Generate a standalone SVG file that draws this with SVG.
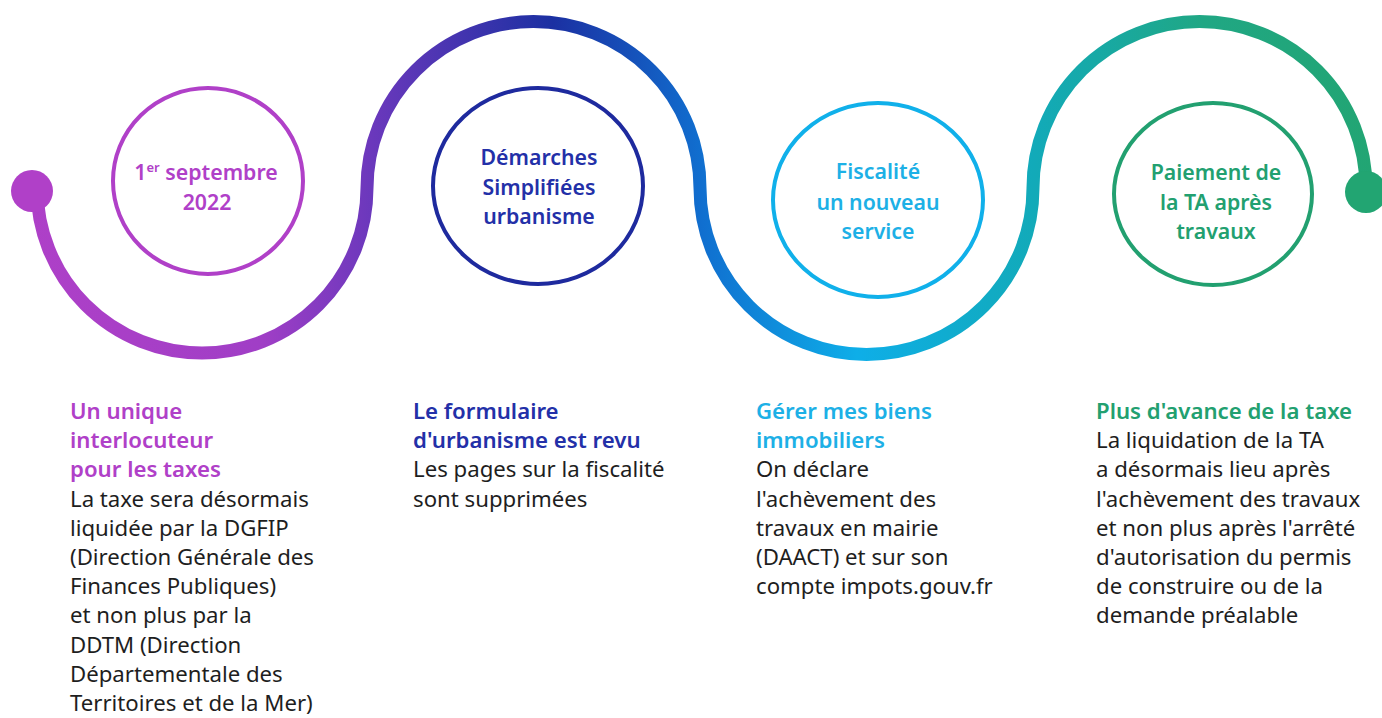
<svg xmlns="http://www.w3.org/2000/svg" width="1382" height="718" viewBox="0 0 1382 718">
<defs>
<linearGradient id="wave" gradientUnits="userSpaceOnUse" x1="0" y1="0" x2="1382" y2="0">
<stop offset="0" stop-color="#b040c8"/>
<stop offset="0.19" stop-color="#a03ec6"/>
<stop offset="0.27" stop-color="#6a38bc"/>
<stop offset="0.4" stop-color="#1b30a2"/>
<stop offset="0.51" stop-color="#1070d0"/>
<stop offset="0.62" stop-color="#0eaee8"/>
<stop offset="0.75" stop-color="#12aab8"/>
<stop offset="0.87" stop-color="#20a784"/>
<stop offset="1" stop-color="#22a572"/>
</linearGradient>
<style>
.ring{fill:none;stroke-width:4}
.t{font-family:"Noto Sans","Liberation Sans",sans-serif;font-size:21.3px}
.d{font-family:"Noto Sans","Liberation Sans",sans-serif;font-size:22.2px}
.h{font-weight:600}
.c{text-anchor:middle}
.body{fill:#1e1e1e}
</style>
</defs>
<rect width="1382" height="718" fill="#ffffff"/>
<g id="connectors">
<path d="M37 188 A165 165 0 0 0 367 188 A166.5 166.5 0 0 1 700 188 A166.5 166.5 0 0 0 1033 188 A166.5 166.5 0 0 1 1366 188" fill="none" stroke="url(#wave)" stroke-width="13"/>
<circle cx="32" cy="191" r="21" fill="#b040c8"/>
<circle cx="1366" cy="192" r="21" fill="#22a572"/>
</g>
<g id="node1">
<ellipse class="ring" cx="208" cy="181" rx="95" ry="93" stroke="#b040c8"/>
<text class="t h c" fill="#b040c8" x="206" y="180">1<tspan font-size="13" dy="-8">er</tspan><tspan dy="8"> septembre</tspan></text>
<text class="t h c" fill="#b040c8" x="207" y="210">2022</text>
</g>
<g id="node2">
<ellipse class="ring" cx="538" cy="186" rx="105" ry="98" stroke="#1e2a9e"/>
<text class="t h c" fill="#2330a8" x="539" y="165">Démarches</text>
<text class="t h c" fill="#2330a8" x="539" y="195">Simplifiées</text>
<text class="t h c" fill="#2330a8" x="539" y="224">urbanisme</text>
</g>
<g id="node3">
<ellipse class="ring" cx="878" cy="200" rx="105" ry="97" stroke="#10b0ea"/>
<text class="t h c" fill="#1db0e6" x="878" y="179">Fiscalité</text>
<text class="t h c" fill="#1db0e6" x="878" y="210">un nouveau</text>
<text class="t h c" fill="#1db0e6" x="878" y="239">service</text>
</g>
<g id="node4">
<ellipse class="ring" cx="1213" cy="194" rx="99" ry="91" stroke="#22a070"/>
<text class="t h c" fill="#22a070" x="1216" y="180">Paiement de</text>
<text class="t h c" fill="#22a070" x="1216" y="210">la TA après</text>
<text class="t h c" fill="#22a070" x="1216" y="239">travaux</text>
</g>
<g id="desc1" class="d">
<text x="70" y="419" class="h" fill="#b040c8">Un unique</text>
<text x="70" y="448.2" class="h" fill="#b040c8">interlocuteur</text>
<text x="70" y="477.4" class="h" fill="#b040c8">pour les taxes</text>
<text x="70" y="506.6" class="body">La taxe sera désormais</text>
<text x="70" y="535.8" class="body">liquidée par la DGFIP</text>
<text x="70" y="565" class="body">(Direction Générale des</text>
<text x="70" y="594.2" class="body">Finances Publiques)</text>
<text x="70" y="623.4" class="body">et non plus par la</text>
<text x="70" y="652.6" class="body">DDTM (Direction</text>
<text x="70" y="681.8" class="body">Départementale des</text>
<text x="70" y="711" class="body">Territoires et de la Mer)</text>
</g>
<g id="desc2" class="d">
<text x="413" y="419" class="h" fill="#2330a8">Le formulaire</text>
<text x="413" y="448.2" class="h" fill="#2330a8">d'urbanisme est revu</text>
<text x="413" y="477.4" class="body">Les pages sur la fiscalité</text>
<text x="413" y="506.6" class="body">sont supprimées</text>
</g>
<g id="desc3" class="d">
<text x="756" y="419" class="h" fill="#1db0e6">Gérer mes biens</text>
<text x="756" y="448.2" class="h" fill="#1db0e6">immobiliers</text>
<text x="756" y="477.4" class="body">On déclare</text>
<text x="756" y="506.6" class="body">l'achèvement des</text>
<text x="756" y="535.8" class="body">travaux en mairie</text>
<text x="756" y="565" class="body">(DAACT) et sur son</text>
<text x="756" y="594.2" class="body">compte impots.gouv.fr</text>
</g>
<g id="desc4" class="d">
<text x="1096" y="419" class="h" fill="#22a070">Plus d'avance de la taxe</text>
<text x="1096" y="448.2" class="body">La liquidation de la TA</text>
<text x="1096" y="477.4" class="body">a désormais lieu après</text>
<text x="1096" y="506.6" class="body">l'achèvement des travaux</text>
<text x="1096" y="535.8" class="body">et non plus après l'arrêté</text>
<text x="1096" y="565" class="body">d'autorisation du permis</text>
<text x="1096" y="594.2" class="body">de construire ou de la</text>
<text x="1096" y="623.4" class="body">demande préalable</text>
</g>
</svg>
